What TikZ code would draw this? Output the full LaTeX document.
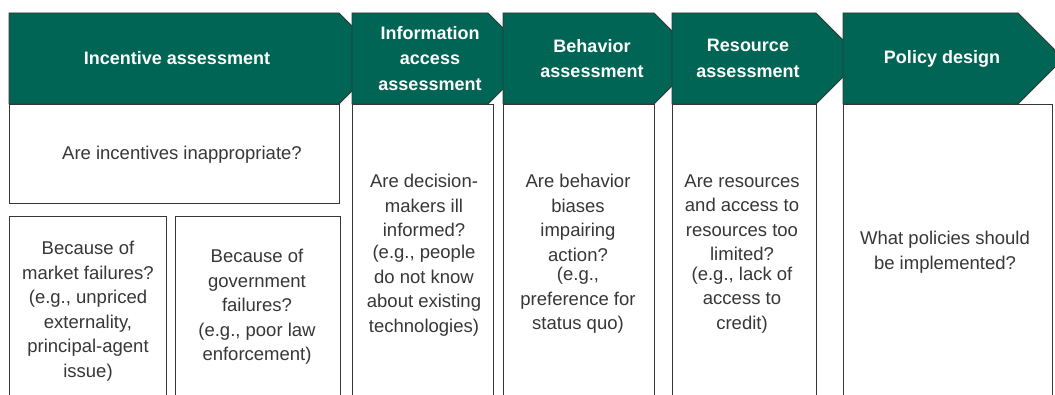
\documentclass[tikz,border=0pt]{standalone}
\usepackage{fontspec}
\setmainfont{Liberation Sans}
\definecolor{hdr}{RGB}{0,101,84}
\definecolor{ink}{RGB}{55,55,55}
\begin{document}
\begin{tikzpicture}[x=1pt,y=-1pt,
  hdrshape/.style={fill=hdr,draw=ink,line width=0.8pt,line join=miter},
  boxline/.style={draw=ink,line width=0.9pt},
  htext/.style={text=white,font=\fontsize{18}{25.5}\selectfont\bfseries,align=center,inner sep=0pt},
  btext/.style={text=ink,font=\fontsize{18.5}{24.5}\selectfont,align=center,inner sep=0pt}]
\clip (0,0) rectangle (1055,395);
\fill[white] (0,0) rectangle (1055,395);
% body boxes
\draw[boxline] (9,104) rectangle (339,203);
\draw[boxline] (9,420) -- (9,216) -- (166,216) -- (166,420);
\draw[boxline] (175,420) -- (175,216) -- (340,216) -- (340,420);
\draw[boxline] (352,420) -- (352,104) -- (493,104) -- (493,420);
\draw[boxline] (503,420) -- (503,104) -- (654,104) -- (654,420);
\draw[boxline] (672,420) -- (672,104) -- (816,104) -- (816,420);
\draw[boxline] (843,420) -- (843,104) -- (1052,104) -- (1052,420);
% headers
\draw[hdrshape] (9,13) -- (339,13) -- (384.5,58.5) -- (339,104) -- (9,104) -- cycle;
\draw[hdrshape] (352,13) -- (488,13) -- (533.5,58.5) -- (488,104) -- (352,104) -- cycle;
\draw[hdrshape] (503,13) -- (654,13) -- (699.5,58.5) -- (654,104) -- (503,104) -- cycle;
\draw[hdrshape] (672,13) -- (816,13) -- (861.5,58.5) -- (816,104) -- (672,104) -- cycle;
\draw[hdrshape] (843,13) -- (1018,13) -- (1063.5,58.5) -- (1018,104) -- (843,104) -- cycle;
% header texts
\node[htext] (h1) at (177,58.5) {Incentive assessment};
\node[htext] (h2) at (430,58.5) {Information\\access\\assessment};
\node[htext] (h3) at (592,58.5) {Behavior\\assessment};
\node[htext] (h4) at (748,58.5) {Resource\\assessment};
\node[htext] (h5) at (942,58.5) {Policy design};
% body texts
\node[btext] (q1) at (182,155) {Are incentives inappropriate?};
\node[btext] (mkt) at (88,311) {Because of\\market failures?\\(e.g., unpriced\\externality,\\principal-agent\\issue)};
\node[btext] (gov) at (257,307) {Because of\\government\\failures?\\(e.g., poor law\\enforcement)};
\node[btext] (q2) at (424,255) {Are decision-\\makers ill\\informed?\\[-2.5pt](e.g., people\\do not know\\about existing\\technologies)};
\node[btext] (q3) at (578,254) {Are behavior\\biases\\impairing\\action?\\[-5pt](e.g.,\\preference for\\status quo)};
\node[btext] (q4) at (742,254) {Are resources\\and access to\\resources too\\limited?\\[-5pt](e.g., lack of\\access to\\credit)};
\node[btext] (q5) at (945,252) {What policies should\\be implemented?};
\end{tikzpicture}
\end{document}
